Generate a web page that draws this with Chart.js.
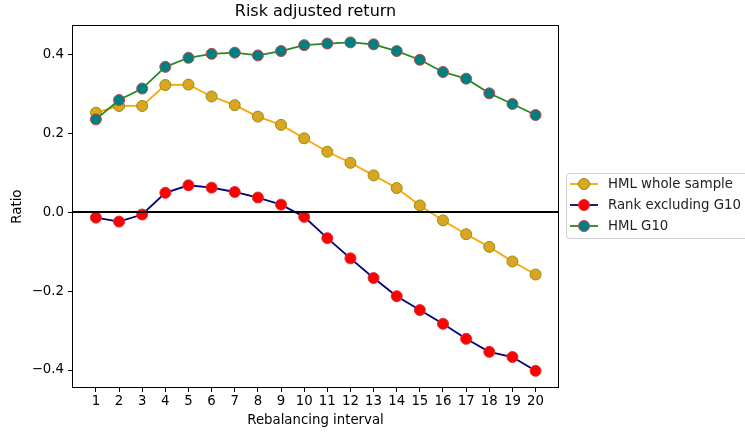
<!DOCTYPE html>
<html>
<head>
<meta charset="utf-8">
<script src="https://cdn.jsdelivr.net/npm/chart.js@4/dist/chart.umd.min.js"></script>
<style>
  html, body { margin: 0; padding: 0; background: #fff; }
</style>
</head>
<body>
<canvas id="riskChart" width="745" height="434"></canvas>
<script>
// values
const intervals = [1, 2, 3, 4, 5, 6, 7, 8, 9, 10, 11, 12, 13, 14, 15, 16, 17, 18, 19, 20];
const hmlWhole = [0.252, 0.269, 0.269, 0.322, 0.323, 0.293, 0.271, 0.242, 0.221, 0.187,
                  0.153, 0.125, 0.093, 0.061, 0.017, -0.021, -0.056, -0.088, -0.125, -0.158];
const rankExG10 = [-0.014, -0.024, -0.006, 0.049, 0.068, 0.062, 0.051, 0.037, 0.019, -0.012,
                   -0.066, -0.117, -0.167, -0.213, -0.248, -0.283, -0.321, -0.354, -0.367, -0.402];
const hmlG10 = [0.235, 0.284, 0.313, 0.368, 0.391, 0.401, 0.404, 0.397, 0.408, 0.423,
                0.427, 0.430, 0.425, 0.408, 0.386, 0.355, 0.338, 0.301, 0.274, 0.246];
const yTicks = [-0.4, -0.2, 0.0, 0.2, 0.4];
const seriesNames = ["HML whole sample", "Rank excluding G10", "HML G10"];

const FONT = "DejaVu Sans";

function toXY(values) {
  return values.map((v, i) => ({ x: intervals[i], y: v }));
}

// axes frame + zero line
const framePlugin = {
  id: "frame",
  afterDatasetsDraw(chart) {
    const { ctx, chartArea: a, scales } = chart;
    ctx.save();
    const y0 = Math.round(scales.y.getPixelForValue(0));
    ctx.strokeStyle = "#000";
    ctx.lineWidth = 2;
    ctx.beginPath();
    ctx.moveTo(a.left, y0);
    ctx.lineTo(a.right, y0);
    ctx.stroke();
    ctx.lineWidth = 1;
    ctx.strokeRect(Math.round(a.left) - 0.5, Math.round(a.top) - 0.5,
                   Math.round(a.right - a.left) + 1, Math.round(a.bottom - a.top) + 1);
    ctx.restore();
  }
};

// matplotlib style legend outside the axes
const legendPlugin = {
  id: "mplLegend",
  afterDraw(chart) {
    const ctx = chart.ctx;
    const x0 = 566, y0 = 173, w = 190, h = 65;
    ctx.save();
    ctx.fillStyle = "rgba(255,255,255,0.8)";
    ctx.strokeStyle = "#d0d0d0";
    ctx.lineWidth = 1;
    ctx.beginPath();
    ctx.roundRect(x0 + 0.5, y0 + 0.5, w, h, 3);
    ctx.fill();
    ctx.stroke();
    ctx.font = "13.3px '" + FONT + "'";
    ctx.textBaseline = "middle";
    chart.data.datasets.forEach((ds, row) => {
      const y = 184 + row * 21;
      ctx.strokeStyle = ds.borderColor;
      ctx.lineWidth = ds.borderWidth;
      ctx.beginPath();
      ctx.moveTo(570, y);
      ctx.lineTo(598, y);
      ctx.stroke();
      ctx.fillStyle = ds.pointBackgroundColor;
      ctx.strokeStyle = ds.pointBorderColor;
      ctx.lineWidth = 1;
      ctx.beginPath();
      ctx.arc(584, y, 5.5, 0, Math.PI * 2);
      ctx.fill();
      ctx.stroke();
      ctx.fillStyle = "#222";
      ctx.fillText(ds.label, 608, y + 1);
    });
    ctx.restore();
  }
};

new Chart(document.getElementById("riskChart"), {
  type: "line",
  data: {
    datasets: [
      {
        label: seriesNames[0],
        data: toXY(hmlWhole),
        borderColor: "#ffa500",
        borderWidth: 1.8,
        pointBackgroundColor: "#daa520",
        pointBorderColor: "#8f8f10",
        pointBorderWidth: 1,
        pointRadius: 5.5,
        order: 2
      },
      {
        label: seriesNames[1],
        data: toXY(rankExG10),
        borderColor: "#000080",
        borderWidth: 1.8,
        pointBackgroundColor: "#ff0000",
        pointBorderColor: "#e03030",
        pointBorderWidth: 1,
        pointRadius: 5.5,
        order: 1
      },
      {
        label: seriesNames[2],
        data: toXY(hmlG10),
        borderColor: "#228b22",
        borderWidth: 1.8,
        pointBackgroundColor: "#008080",
        pointBorderColor: "#c04848",
        pointBorderWidth: 1,
        pointRadius: 5.5,
        order: 0
      }
    ]
  },
  options: {
    responsive: false,
    animation: false,
    layout: { padding: { left: 0, right: 187, top: 0, bottom: 0 } },
    plugins: {
      legend: { display: false },
      tooltip: { enabled: false },
      title: {
        display: true,
        fullSize: false,
        text: "Risk adjusted return",
        color: "#000",
        font: { family: FONT, size: 16, weight: "normal" },
        padding: { top: 2, bottom: 5 }
      }
    },
    scales: {
      x: {
        type: "linear",
        min: 0.01,
        max: 20.97,
        afterBuildTicks: s => { s.ticks = intervals.map(v => ({ value: v })); },
        afterFit: s => { s.height = 47; },
        ticks: {
          autoSkip: false,
          maxRotation: 0,
          color: "#000",
          padding: 2,
          font: { family: FONT, size: 13.3 },
          callback: v => String(v)
        },
        grid: { display: true, drawOnChartArea: false, drawTicks: true, tickLength: 5, color: "#000" },
        border: { display: false },
        title: {
          display: true,
          text: "Rebalancing interval",
          color: "#000",
          font: { family: FONT, size: 13.3 },
          padding: { top: 0, bottom: 5 }
        }
      },
      y: {
        min: -0.443,
        max: 0.471,
        afterBuildTicks: s => { s.ticks = yTicks.map(v => ({ value: v })); },
        afterFit: s => { s.width = 73; },
        ticks: {
          color: "#000",
          padding: 4,
          font: { family: FONT, size: 13.3 },
          callback: v => (v < 0 ? "\u2212" : "") + Math.abs(v).toFixed(1)
        },
        grid: { display: true, drawOnChartArea: false, drawTicks: true, tickLength: 5, color: "#000" },
        border: { display: false },
        title: {
          display: true,
          text: "Ratio",
          color: "#000",
          font: { family: FONT, size: 13.3 },
          padding: { top: 10, bottom: 0 }
        }
      }
    }
  },
  plugins: [framePlugin, legendPlugin]
});
</script>
</body>
</html>
